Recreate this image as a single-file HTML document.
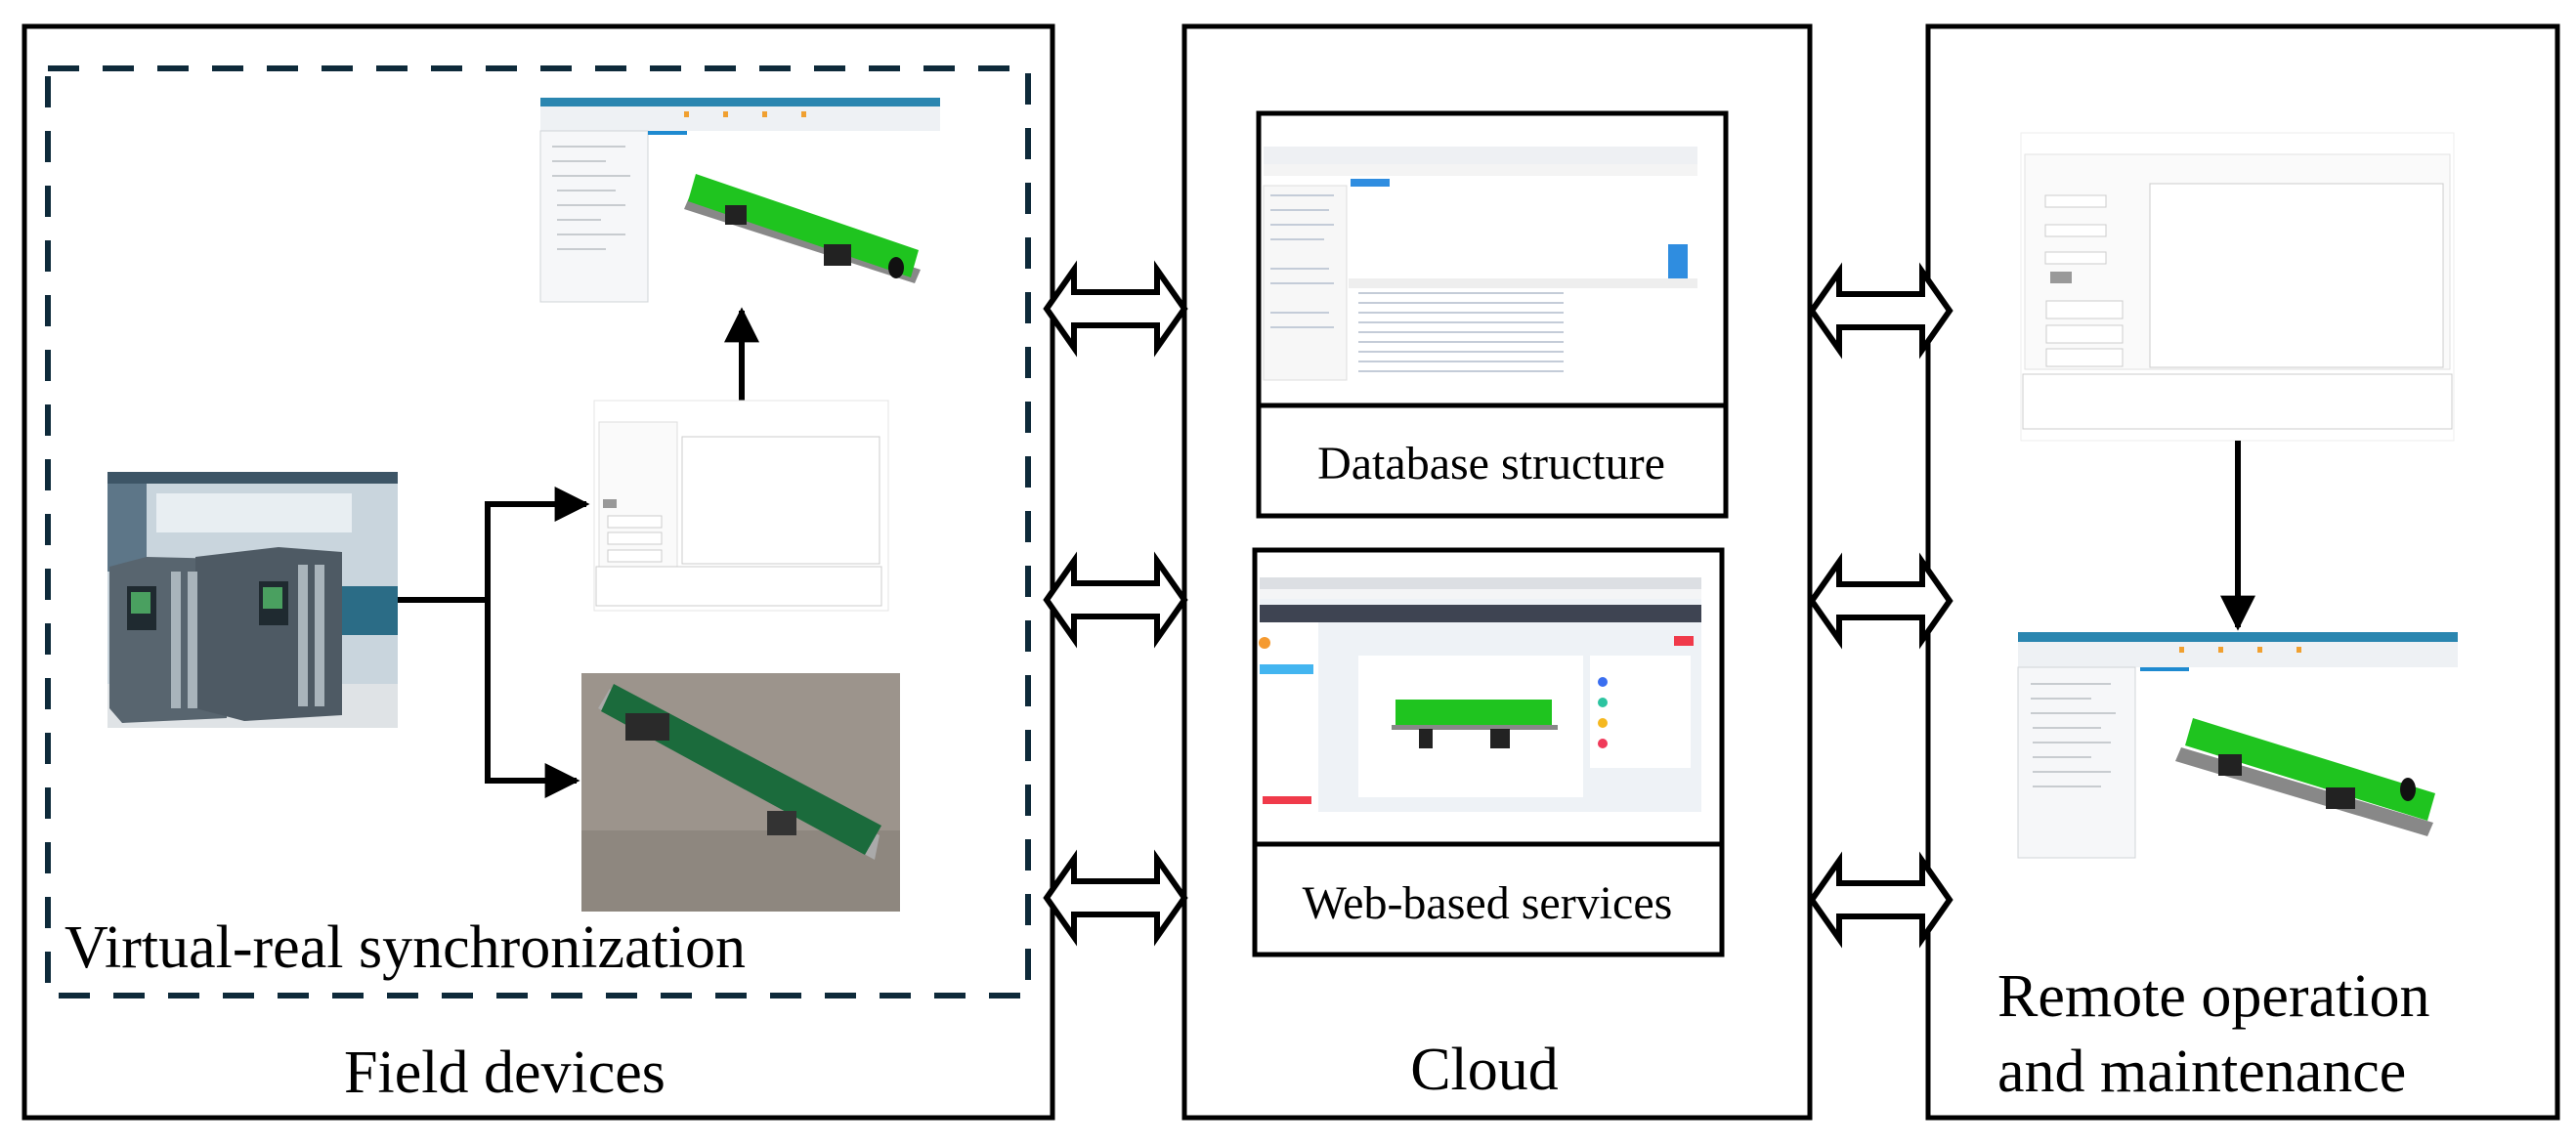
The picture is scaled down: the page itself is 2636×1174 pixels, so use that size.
<!DOCTYPE html>
<html><head><meta charset="utf-8"><style>
html,body{margin:0;padding:0;background:#fff;}
svg{display:block;}
text{font-family:"Liberation Serif","Times New Roman",serif;fill:#000;}
</style></head><body>
<svg width="2636" height="1174" viewBox="0 0 2636 1174" xmlns="http://www.w3.org/2000/svg" font-family="Liberation Serif, serif">
<defs>
<g id="dbl">
<polygon points="0,0 28,-40 28,-17 113,-17 113,-40 141,0 113,40 113,17 28,17 28,40" fill="#fff" stroke="#000" stroke-width="6" stroke-linejoin="miter"/>
</g>
<marker id="ah" viewBox="0 0 10 10" refX="9" refY="5" markerWidth="6" markerHeight="6" orient="auto"><path d="M0,0 L10,5 L0,10 z" fill="#000"/></marker>
</defs>

<rect x="25" y="27" width="1052" height="1117" fill="none" stroke="#000" stroke-width="5"/>
<rect x="1212" y="27" width="640" height="1117" fill="none" stroke="#000" stroke-width="5"/>
<rect x="1973" y="27" width="644" height="1117" fill="none" stroke="#000" stroke-width="5"/>
<rect x="49" y="70" width="1003" height="949" fill="none" stroke="#0e2a3a" stroke-width="6" stroke-dasharray="32 24"/>

<use href="#dbl" x="1071" y="316"/>
<use href="#dbl" x="1071" y="614"/>
<use href="#dbl" x="1071" y="919"/>
<use href="#dbl" x="1854" y="318"/>
<use href="#dbl" x="1854" y="615"/>
<use href="#dbl" x="1854" y="921"/>

<g>
<rect x="553" y="100" width="409" height="209" fill="#fff"/>
<rect x="553" y="100" width="409" height="9" fill="#2a86b0"/>
<rect x="553" y="109" width="409" height="25" fill="#eef1f4"/>
<g fill="#f0a030"><rect x="700" y="114" width="5" height="6"/><rect x="740" y="114" width="5" height="6"/><rect x="780" y="114" width="5" height="6"/><rect x="820" y="114" width="5" height="6"/></g>
<rect x="553" y="134" width="110" height="175" fill="#f6f7f9" stroke="#d0d4d8"/>
<rect x="663" y="134" width="40" height="4" fill="#1e8ad0"/>
<g stroke="#c8ccd0" stroke-width="2"><line x1="565" y1="150" x2="640" y2="150"/><line x1="565" y1="165" x2="620" y2="165"/><line x1="565" y1="180" x2="645" y2="180"/><line x1="570" y1="195" x2="630" y2="195"/><line x1="570" y1="210" x2="640" y2="210"/><line x1="570" y1="225" x2="615" y2="225"/><line x1="570" y1="240" x2="640" y2="240"/><line x1="570" y1="255" x2="620" y2="255"/></g>
<polygon points="706,200 942,276 936,290 700,214" fill="#888"/>
<polygon points="712,178 940,256 932,284 704,206" fill="#1fc41f"/>
<rect x="742" y="210" width="22" height="20" fill="#222"/>
<rect x="843" y="250" width="28" height="22" fill="#222"/>
<ellipse cx="917" cy="274" rx="8" ry="11" fill="#111"/>
</g>
<line x1="759" y1="410" x2="759" y2="318" stroke="#000" stroke-width="6" marker-end="url(#ah)"/>

<g>
<rect x="608" y="410" width="301" height="215" fill="#fff" stroke="#e4e4e4"/>
<rect x="613" y="432" width="80" height="150" fill="#fafafa" stroke="#ddd"/>
<rect x="698" y="447" width="202" height="130" fill="#fff" stroke="#ccc"/>
<rect x="617" y="511" width="14" height="9" fill="#999"/>
<g fill="#fff" stroke="#ccc"><rect x="622" y="528" width="55" height="12"/><rect x="622" y="545" width="55" height="12"/><rect x="622" y="563" width="55" height="12"/></g>
<rect x="610" y="580" width="292" height="40" fill="#fff" stroke="#ccc"/>
</g>

<g>
<rect x="110" y="483" width="297" height="262" fill="#c9d5dd"/>
<rect x="110" y="483" width="297" height="12" fill="#3d5566"/>
<rect x="110" y="495" width="40" height="90" fill="#5d7688"/>
<rect x="160" y="505" width="200" height="40" fill="#e8eef2"/>
<rect x="330" y="600" width="77" height="50" fill="#2b6c86"/>
<rect x="110" y="700" width="297" height="45" fill="#dfe3e6"/>
<polygon points="112,580 150,570 232,572 232,735 125,740 112,725" fill="#58656f"/>
<polygon points="200,570 285,560 350,565 350,732 250,738 200,725" fill="#4e5a64"/>
<rect x="130" y="600" width="30" height="45" fill="#1f2a30"/><rect x="134" y="606" width="20" height="22" fill="#4aa060"/>
<rect x="265" y="595" width="30" height="45" fill="#1f2a30"/><rect x="269" y="601" width="20" height="22" fill="#4aa060"/>
<g fill="#a9b4bb"><rect x="175" y="585" width="10" height="140"/><rect x="192" y="585" width="10" height="140"/><rect x="305" y="578" width="10" height="145"/><rect x="322" y="578" width="10" height="145"/></g>
</g>
<polyline points="407,614 499,614" fill="none" stroke="#000" stroke-width="6"/>
<polyline points="499,614 499,516 600,516" fill="none" stroke="#000" stroke-width="6" marker-end="url(#ah)"/>
<polyline points="499,614 499,799 590,799" fill="none" stroke="#000" stroke-width="6" marker-end="url(#ah)"/>

<g>
<rect x="595" y="689" width="326" height="244" fill="#9c948c"/>
<rect x="595" y="850" width="326" height="83" fill="#8e877f"/>
<polygon points="624,705 900,855 895,880 612,725" fill="#aaa"/>
<polygon points="628,700 902,845 885,875 615,728" fill="#1b6b3c"/>
<rect x="640" y="730" width="45" height="28" fill="#2a2a2a"/>
<rect x="785" y="830" width="30" height="25" fill="#333"/>
</g>

<text x="66" y="990" font-size="62" font-family="Liberation Serif, serif">Virtual-real synchronization</text>
<text x="352" y="1118" font-size="62" font-family="Liberation Serif, serif">Field devices</text>

<rect x="1288" y="116" width="478" height="412" fill="none" stroke="#000" stroke-width="5"/>
<line x1="1288" y1="415" x2="1766" y2="415" stroke="#000" stroke-width="5"/>
<g>
<rect x="1293" y="135" width="444" height="254" fill="#fff"/>
<rect x="1293" y="150" width="444" height="18" fill="#eef0f3"/>
<rect x="1293" y="168" width="444" height="12" fill="#f4f4f4"/>
<rect x="1382" y="183" width="40" height="8" fill="#2f8de0"/>
<rect x="1293" y="190" width="85" height="199" fill="#f7f7f7" stroke="#ddd"/>
<rect x="1380" y="285" width="357" height="10" fill="#eee"/>
<rect x="1707" y="250" width="20" height="35" fill="#2f8de0"/>
<g stroke="#c4ccd8" stroke-width="2">
<line x1="1390" y1="300" x2="1600" y2="300"/><line x1="1390" y1="310" x2="1600" y2="310"/><line x1="1390" y1="320" x2="1600" y2="320"/><line x1="1390" y1="330" x2="1600" y2="330"/><line x1="1390" y1="340" x2="1600" y2="340"/><line x1="1390" y1="350" x2="1600" y2="350"/><line x1="1390" y1="360" x2="1600" y2="360"/><line x1="1390" y1="370" x2="1600" y2="370"/><line x1="1390" y1="380" x2="1600" y2="380"/>
<line x1="1300" y1="200" x2="1365" y2="200"/><line x1="1300" y1="215" x2="1360" y2="215"/><line x1="1300" y1="230" x2="1365" y2="230"/><line x1="1300" y1="245" x2="1355" y2="245"/><line x1="1300" y1="275" x2="1360" y2="275"/><line x1="1300" y1="290" x2="1365" y2="290"/><line x1="1300" y1="320" x2="1360" y2="320"/><line x1="1300" y1="335" x2="1365" y2="335"/>
</g>
</g>
<text x="1526" y="490" font-size="48" text-anchor="middle" font-family="Liberation Serif, serif">Database structure</text>

<rect x="1284" y="563" width="478" height="414" fill="none" stroke="#000" stroke-width="5"/>
<line x1="1284" y1="864" x2="1762" y2="864" stroke="#000" stroke-width="5"/>
<g>
<rect x="1289" y="591" width="452" height="240" fill="#eef2f6"/>
<rect x="1289" y="591" width="452" height="12" fill="#dcdfe3"/>
<rect x="1289" y="603" width="452" height="10" fill="#f4f5f6"/>
<rect x="1289" y="619" width="452" height="18" fill="#3e4452"/>
<rect x="1289" y="637" width="60" height="194" fill="#fff"/>
<rect x="1289" y="680" width="55" height="10" fill="#43b5f0"/>
<rect x="1292" y="815" width="50" height="8" fill="#f03a4a"/>
<rect x="1713" y="651" width="20" height="10" fill="#f03a4a"/>
<rect x="1390" y="671" width="230" height="145" fill="#fff"/>
<rect x="1627" y="671" width="103" height="115" fill="#fff"/>
<polygon points="1428,716 1588,716 1588,744 1428,744" fill="#1fc41f"/>
<rect x="1424" y="742" width="170" height="5" fill="#888"/>
<rect x="1452" y="746" width="14" height="20" fill="#222"/>
<rect x="1525" y="746" width="20" height="20" fill="#222"/>
<circle cx="1640" cy="698" r="5" fill="#3a6ef0"/>
<circle cx="1640" cy="719" r="5" fill="#2cc4a0"/>
<circle cx="1640" cy="740" r="5" fill="#f5b820"/>
<circle cx="1640" cy="761" r="5" fill="#f03a5a"/>
<circle cx="1294" cy="658" r="6" fill="#f59a30"/>
</g>
<text x="1522" y="940" font-size="48" text-anchor="middle" font-family="Liberation Serif, serif">Web-based services</text>
<text x="1519" y="1115" font-size="62" text-anchor="middle" font-family="Liberation Serif, serif">Cloud</text>

<g>
<rect x="2068" y="136" width="443" height="315" fill="#fff" stroke="#eee"/>
<rect x="2072" y="158" width="435" height="220" fill="#fafafa" stroke="#e2e2e2"/>
<rect x="2200" y="188" width="300" height="188" fill="#fff" stroke="#ccc"/>
<rect x="2098" y="278" width="22" height="12" fill="#999"/>
<g fill="#fff" stroke="#ccc"><rect x="2094" y="308" width="78" height="18"/><rect x="2094" y="333" width="78" height="18"/><rect x="2094" y="357" width="78" height="18"/><rect x="2093" y="200" width="62" height="12"/><rect x="2093" y="230" width="62" height="12"/><rect x="2093" y="258" width="62" height="12"/></g>
<rect x="2070" y="383" width="439" height="56" fill="#fff" stroke="#ccc"/>
</g>
<line x1="2290" y1="451" x2="2290" y2="642" stroke="#000" stroke-width="6" marker-end="url(#ah)"/>

<g>
<rect x="2065" y="647" width="450" height="231" fill="#fff"/>
<rect x="2065" y="647" width="450" height="10" fill="#2a86b0"/>
<rect x="2065" y="657" width="450" height="26" fill="#eef1f4"/>
<g fill="#f0a030"><rect x="2230" y="662" width="5" height="6"/><rect x="2270" y="662" width="5" height="6"/><rect x="2310" y="662" width="5" height="6"/><rect x="2350" y="662" width="5" height="6"/></g>
<rect x="2065" y="683" width="120" height="195" fill="#f6f7f9" stroke="#d0d4d8"/>
<rect x="2190" y="683" width="50" height="4" fill="#1e8ad0"/>
<g stroke="#c8ccd0" stroke-width="2"><line x1="2078" y1="700" x2="2160" y2="700"/><line x1="2078" y1="715" x2="2140" y2="715"/><line x1="2078" y1="730" x2="2165" y2="730"/><line x1="2080" y1="745" x2="2150" y2="745"/><line x1="2080" y1="760" x2="2160" y2="760"/><line x1="2080" y1="775" x2="2140" y2="775"/><line x1="2080" y1="790" x2="2160" y2="790"/><line x1="2080" y1="805" x2="2150" y2="805"/></g>
<polygon points="2232,765 2490,842 2484,856 2226,779" fill="#888"/>
<polygon points="2244,735 2492,812 2484,840 2236,763" fill="#1fc41f"/>
<rect x="2270" y="772" width="24" height="22" fill="#222"/>
<rect x="2380" y="806" width="30" height="22" fill="#222"/>
<ellipse cx="2464" cy="808" rx="8" ry="12" fill="#111"/>
</g>

<text x="2044" y="1040" font-size="62" font-family="Liberation Serif, serif">Remote operation</text>
<text x="2044" y="1117" font-size="62" font-family="Liberation Serif, serif">and maintenance</text>
</svg>
</body></html>
